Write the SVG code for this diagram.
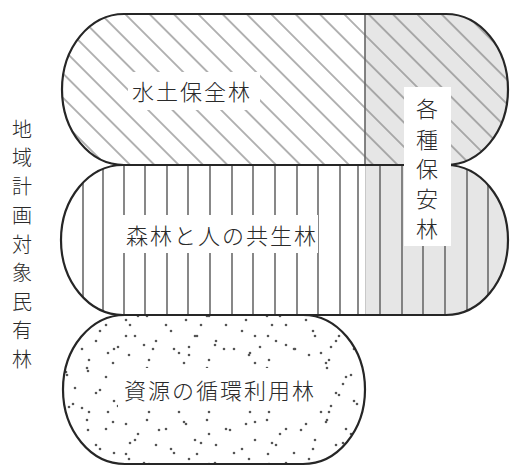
<svg xmlns="http://www.w3.org/2000/svg" width="510" height="466" viewBox="0 0 510 466">
<style>
.outline{fill:none;stroke:#262626;stroke-width:2.2}
.vl{stroke:#6a6a6a;stroke-width:1.6}
.lbl{font-family:"Noto Sans CJK JP","Noto Sans CJK SC",sans-serif;font-size:22px;font-weight:300;fill:#2a2a2a;letter-spacing:2px}
.vt{font-family:"Noto Sans CJK JP","Noto Sans CJK SC",sans-serif;font-size:22px;font-weight:300;fill:#2a2a2a;text-anchor:middle;dominant-baseline:central}
.vs{font-size:20px}
.box{fill:#fff}
</style>
<defs>
<clipPath id="cTop"><rect x="62" y="14" width="446" height="151" rx="62" ry="75.5"/></clipPath>
<clipPath id="cMid"><rect x="61" y="165" width="447" height="150" rx="62" ry="75"/></clipPath>
<clipPath id="cBot"><rect x="63" y="315" width="302" height="149" rx="62" ry="74.5"/></clipPath>
<pattern id="diag" patternUnits="userSpaceOnUse" width="17.2" height="20" patternTransform="translate(1.65,0) rotate(-45)">
<rect x="8" y="-1" width="1.2" height="22" fill="#828282"/>
</pattern>
<pattern id="dotsA" patternUnits="userSpaceOnUse" width="60" height="52">
<g fill="#555"><circle cx="6" cy="8" r="1.3"/><circle cx="27" cy="4" r="1.3"/><circle cx="46" cy="13" r="1.3"/><circle cx="15" cy="24" r="1.3"/><circle cx="36" cy="29" r="1.3"/><circle cx="54" cy="37" r="1.3"/><circle cx="9" cy="43" r="1.3"/><circle cx="29" cy="48" r="1.3"/></g>
</pattern>
<pattern id="dotsB" patternUnits="userSpaceOnUse" width="71" height="59" patternTransform="translate(7,3)">
<g fill="#555"><circle cx="10" cy="14" r="1.3"/><circle cx="35" cy="6" r="1.3"/><circle cx="60" cy="18" r="1.3"/><circle cx="22" cy="33" r="1.3"/><circle cx="48" cy="38" r="1.3"/><circle cx="66" cy="47" r="1.3"/><circle cx="4" cy="51" r="1.3"/><circle cx="30" cy="55" r="1.3"/><circle cx="52" cy="27" r="1.3"/><circle cx="40" cy="49" r="1.3"/></g>
</pattern>
</defs>

<g id="node-suido">
<g clip-path="url(#cTop)">
<rect x="60" y="12" width="450" height="155" fill="#fff"/>
<rect x="365" y="12" width="145" height="155" fill="#e6e6e6"/>
<rect x="60" y="12" width="450" height="155" fill="url(#diag)"/>
<line x1="365" y1="14" x2="365" y2="165" stroke="#666" stroke-width="1.6"/>
</g>
<rect class="outline" x="62" y="14" width="446" height="151" rx="62" ry="75.5"/>
</g>

<g id="node-kyosei">
<g clip-path="url(#cMid)">
<rect x="59" y="163" width="451" height="154" fill="#fff"/>
<rect x="365" y="163" width="145" height="154" fill="#e6e6e6"/>
<g class="vl">
<line x1="83" y1="165" x2="83" y2="315"/><line x1="103" y1="165" x2="103" y2="315"/><line x1="124" y1="165" x2="124" y2="315"/><line x1="145" y1="165" x2="145" y2="315"/><line x1="167" y1="165" x2="167" y2="315"/><line x1="188" y1="165" x2="188" y2="315"/><line x1="210" y1="165" x2="210" y2="315"/><line x1="232" y1="165" x2="232" y2="315"/><line x1="253" y1="165" x2="253" y2="315"/><line x1="275" y1="165" x2="275" y2="315"/><line x1="297" y1="165" x2="297" y2="315"/><line x1="318" y1="165" x2="318" y2="315"/><line x1="340" y1="165" x2="340" y2="315"/><line x1="358" y1="165" x2="358" y2="315"/>
<line x1="380" y1="165" x2="380" y2="315"/><line x1="402" y1="165" x2="402" y2="315"/><line x1="423" y1="165" x2="423" y2="315"/><line x1="445" y1="165" x2="445" y2="315"/><line x1="467" y1="165" x2="467" y2="315"/><line x1="488" y1="165" x2="488" y2="315"/>
</g>
<line x1="365.5" y1="165" x2="365.5" y2="315" stroke="#c8c8c8" stroke-width="1"/>
</g>
<rect class="outline" x="61" y="165" width="447" height="150" rx="62" ry="75"/>
</g>

<g id="node-junkan">
<g clip-path="url(#cBot)">
<rect x="61" y="313" width="306" height="153" fill="#fff"/>
<rect x="61" y="313" width="306" height="153" fill="url(#dotsA)"/>
<rect x="61" y="313" width="306" height="153" fill="url(#dotsB)"/>
</g>
<rect class="outline" x="63" y="315" width="302" height="149" rx="62" ry="74.5"/>
</g>

<g id="connectors"></g>

<g id="label-suido">
<rect class="box" x="128" y="72" width="132" height="38"/>
<text class="lbl" x="132" y="100">水土保全林</text>
</g>
<g id="label-kyosei">
<rect class="box" x="122" y="215" width="196" height="38"/>
<text class="lbl" x="126" y="244">森林と人の共生林</text>
</g>
<g id="label-junkan">
<rect class="box" x="118" y="368" width="199" height="42"/>
<text class="lbl" x="124" y="399">資源の循環利用林</text>
</g>
<g id="label-hoan">
<rect class="box" x="404" y="87" width="47" height="159"/>
<text class="vt" x="427" y="107">各</text>
<text class="vt" x="427" y="137.5">種</text>
<text class="vt" x="427" y="167">保</text>
<text class="vt" x="427" y="197">安</text>
<text class="vt" x="427" y="226.5">林</text>
</g>
<g id="label-left">
<text class="vt vs" x="22" y="128">地</text>
<text class="vt vs" x="22" y="156.8">域</text>
<text class="vt vs" x="22" y="185.5">計</text>
<text class="vt vs" x="22" y="214.3">画</text>
<text class="vt vs" x="22" y="243">対</text>
<text class="vt vs" x="22" y="271.8">象</text>
<text class="vt vs" x="22" y="300.5">民</text>
<text class="vt vs" x="22" y="329.3">有</text>
<text class="vt vs" x="22" y="358">林</text>
</g>
</svg>
